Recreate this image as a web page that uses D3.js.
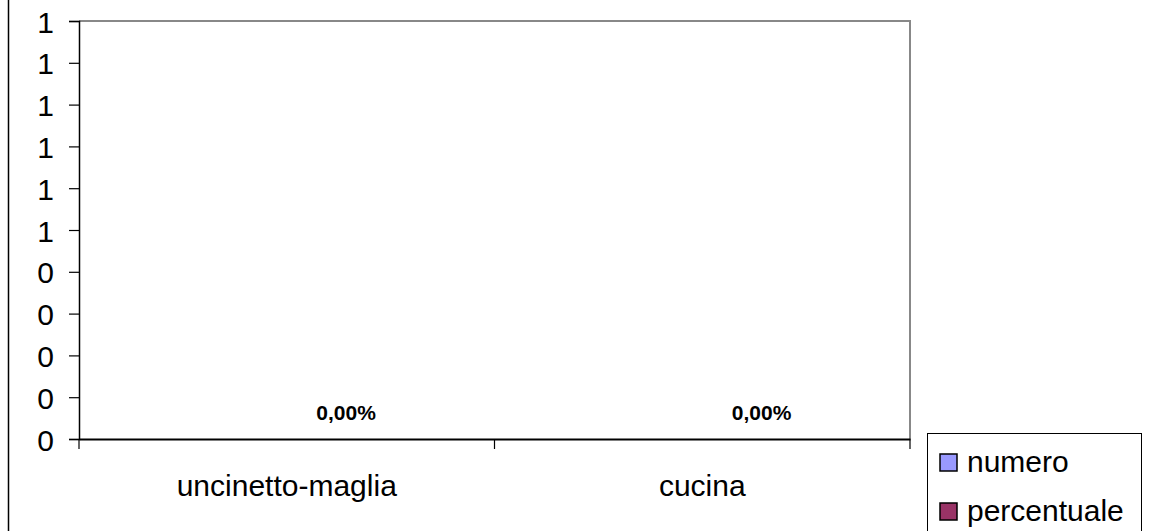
<!DOCTYPE html>
<html><head><meta charset="utf-8">
<script src="https://cdn.jsdelivr.net/npm/d3@7"></script>
<style>body{margin:0;background:#fff}svg{display:block}text{font-family:"Liberation Sans",Arial,sans-serif}</style>
</head><body><svg id="c" width="1149" height="531"></svg>
<script>
const categories = ["uncinetto-maglia", "cucina"];
const seriesNames = ["numero", "percentuale"];
const numero = [0, 0];
const percentuale = [0, 0];
const percentLabels = ["0,00%", "0,00%"];
const yTicks = [0, 0.1, 0.2, 0.3, 0.4, 0.5, 0.6, 0.7, 0.8, 0.9, 1];
const yTickLabels = ["0", "0", "0", "0", "0", "1", "1", "1", "1", "1", "1"];
const colors = ["#9999FF", "#993366"];

const svg = d3.select("#c");
const L = 79, R = 910, T = 21, B = 439;
const FS = 30;
const x0 = d3.scaleBand().domain(categories).range([L, R]);
const x1 = d3.scaleBand().domain(seriesNames).range([0, x0.bandwidth()]).paddingInner(0).paddingOuter(0.75);
const y = d3.scaleLinear().domain([0, 1]).range([B, T]);

// outer left border
svg.append("line").attr("x1", 8.5).attr("x2", 8.5).attr("y1", 0).attr("y2", 531).attr("stroke", "#000").attr("stroke-width", 1.5);

// plot frame top/right
svg.append("path").attr("d", `M${L},${T}H${R}V${B}`).attr("fill", "none").attr("stroke", "#888").attr("stroke-width", 2);

// bars
const seriesData = [numero, percentuale];
seriesData.forEach((vals, si) => {
  svg.append("g").selectAll("rect").data(vals).join("rect")
    .attr("x", (d, i) => x0(categories[i]) + x1(seriesNames[si]))
    .attr("width", x1.bandwidth())
    .attr("y", d => y(d)).attr("height", d => B - y(d))
    .attr("fill", colors[si]).attr("stroke", d => d > 0 ? "#000" : "none");
});

// y axis
const yAxis = d3.axisLeft(y).tickValues(yTicks).tickSize(10).tickPadding(0)
  .tickFormat((d, i) => yTickLabels[i]);
const gy = svg.append("g").attr("transform", `translate(${L},0)`).call(yAxis);
gy.select(".domain").attr("stroke", "#000").attr("stroke-width", 1.5);
gy.selectAll(".tick line").attr("stroke", "#000").attr("stroke-width", 1.2);
gy.selectAll(".tick text").attr("x", -25).attr("y", 11).attr("dy", 0).attr("font-size", FS).attr("fill", "#000").attr("font-family", "Liberation Sans, Arial, sans-serif");

// x axis
const xAxis = d3.axisBottom(x0).tickSize(0).tickPadding(0);
const gx = svg.append("g").attr("transform", `translate(0,${B})`).call(xAxis);
gx.select(".domain").attr("stroke", "#000").attr("stroke-width", 2);
gx.selectAll(".tick text").attr("y", 57).attr("dy", 0).attr("font-size", FS).attr("fill", "#000").attr("font-family", "Liberation Sans, Arial, sans-serif");
// category boundary ticks
const bounds = [L, ...categories.slice(1).map(c => x0(c)), R];
svg.append("g").selectAll("line").data(bounds).join("line")
  .attr("x1", d => d).attr("x2", d => d).attr("y1", B).attr("y2", B + 10)
  .attr("stroke", "#000").attr("stroke-width", 1.2);

// data labels for percentuale
svg.append("g").selectAll("text").data(percentuale).join("text")
  .attr("x", (d, i) => x0(categories[i]) + x1("percentuale") + x1.bandwidth() / 2)
  .attr("y", d => y(d) - 19)
  .attr("text-anchor", "middle").attr("font-weight", "bold").attr("font-size", 21)
  .text((d, i) => percentLabels[i]);

// legend
const lg = svg.append("g");
lg.append("rect").attr("x", 927.5).attr("y", 433.5).attr("width", 214).attr("height", 120).attr("fill", "#fff").attr("stroke", "#000");
seriesNames.forEach((s, i) => {
  const yy = 454 + i * 49;
  lg.append("rect").attr("x", 940).attr("y", yy).attr("width", 17).attr("height", 17).attr("fill", colors[i]).attr("stroke", "#000").attr("stroke-width", 1.5);
  lg.append("text").attr("x", 967).attr("y", yy + 18).attr("font-size", FS).text(s);
});
</script></body></html>
